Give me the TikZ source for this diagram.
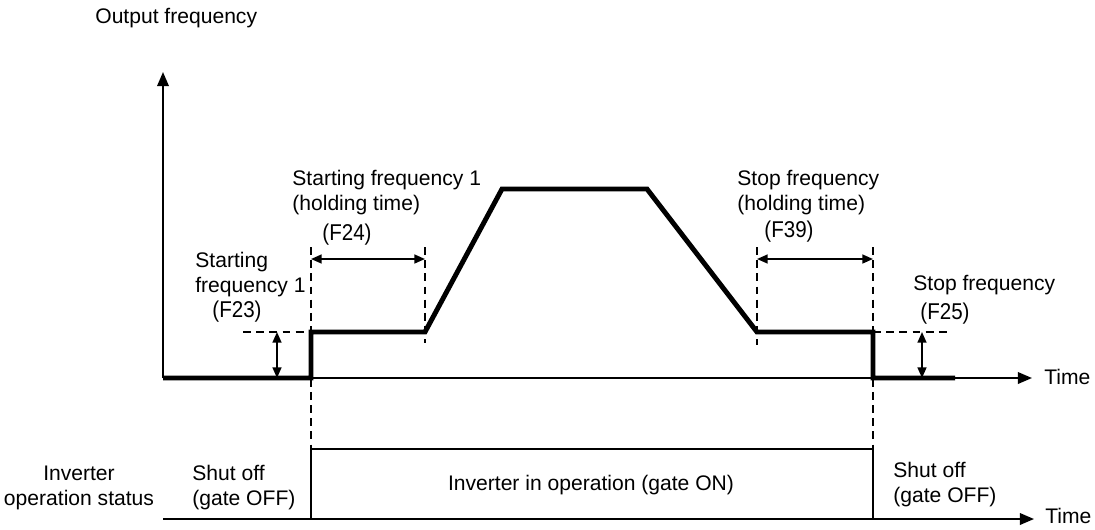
\documentclass[tikz,border=0pt]{standalone}
\usepackage{fontspec}
\setmainfont{Liberation Sans}
\newfontfamily\parfont[FakeStretch=0.9]{Liberation Sans}
\usetikzlibrary{arrows.meta}
\tikzset{
  axis/.style={line width=1.2pt, -{Triangle[length=8pt,width=6.5pt]}},
  freqline/.style={line width=2.8pt, line join=miter},
  statusline/.style={line width=1.2pt},
  guide/.style={line width=0.9pt, dash pattern=on 4.5pt off 3pt},
  dim/.style={line width=1pt, {Triangle[length=6pt,width=5pt]}-{Triangle[length=6pt,width=5pt]}},
  lbl/.style={inner sep=0pt, font=\fontsize{12}{14.2}\selectfont},
  par/.style={inner sep=0pt, font=\parfont\fontsize{13}{14}\selectfont}
}
\begin{document}
\begin{tikzpicture}[x=0.02cm, y=-0.02cm]
    \useasboundingbox (0,0) rectangle (1095,529);
    % output frequency curve
    \coordinate (o) at (163,378);
    \coordinate (ytop) at (163,72);
    \coordinate (xend) at (1032,378);
    \coordinate (on) at (311,378);
    \coordinate (on1) at (311,332);
    \coordinate (hold1) at (425,332);
    \coordinate (top1) at (502,189);
    \coordinate (top2) at (647,189);
    \coordinate (hold2) at (757,332);
    \coordinate (off1) at (873,332);
    \coordinate (off) at (873,378);
    \coordinate (stop) at (955,378);
    \draw[axis] (o) -- (ytop);
    \draw[axis] (o) -- (xend);
    \draw[freqline] (o) -- (on) -- (on1) -- (hold1) -- (top1) -- (top2) -- (hold2) -- (off1) -- (off) -- (stop);
    \node[lbl, anchor=west] (yl) at (95,18) {Output frequency};
    \node[lbl, anchor=west] (tl1) at (1044,377) {Time};
    % guides and dimensions
    \draw[guide] (311,247) -- (311,449);
    \draw[guide] (873,247) -- (873,449);
    \draw[guide] (425,247) -- (hold1) -- (425,343);
    \draw[guide] (757,247) -- (hold2) -- (757,345);
    \draw[guide] (243,332) -- (on1);
    \draw[guide] (off1) -- (952,332);
    \draw[dim] (277,332) -- (277,378);
    \draw[dim] (922,332) -- (922,378);
    \draw[dim] (311,259) -- (425,259);
    \draw[dim] (757,259) -- (873,259);
    \node[lbl, anchor=west, align=left] (f23a) at (195,275) {Starting\\frequency 1};
    \node[par] (f23) at (237,312) {(F23)};
    \node[lbl, anchor=west, align=left] (f24a) at (292,193) {Starting frequency 1\\(holding time)};
    \node[par] (f24) at (347,235) {(F24)};
    \node[lbl, anchor=west, align=left] (f39a) at (737,193) {Stop frequency\\(holding time)};
    \node[par] (f39) at (789,232) {(F39)};
    \node[lbl, anchor=west] (f25a) at (913,285) {Stop frequency};
    \node[par] (f25) at (945,314) {(F25)};
    % inverter operation status
    \coordinate (b0) at (163,519);
    \coordinate (bend) at (1034,519);
    \coordinate (g1) at (311,519);
    \coordinate (g2) at (311,449);
    \coordinate (g3) at (873,449);
    \coordinate (g4) at (873,519);
    \draw[axis] (b0) -- (bend);
    \draw[statusline] (g1) -- (g2) -- (g3) -- (g4);
    \node[lbl, anchor=west] (tl2) at (1045,516) {Time};
    \node[lbl, align=center] (st) at (79,488) {Inverter\\operation status};
    \node[lbl, anchor=west, align=left] (off0) at (192,488) {Shut off\\(gate OFF)};
    \node[lbl] (run) at (591,485) {Inverter in operation (gate ON)};
    \node[lbl, anchor=west, align=left] (off2) at (893,485) {Shut off\\(gate OFF)};
\end{tikzpicture}
\end{document}
